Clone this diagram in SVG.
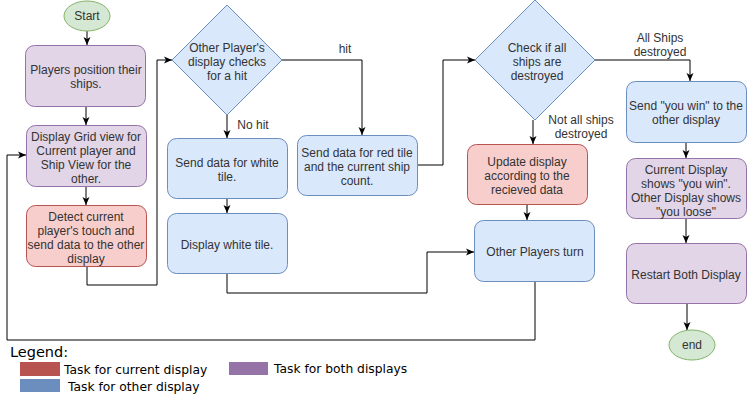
<svg xmlns="http://www.w3.org/2000/svg" width="747" height="400" viewBox="0 0 747 400">
<style>
.t{font-family:"Liberation Sans",Arial,sans-serif;font-size:12px;fill:#333;text-anchor:middle}
.lg{font-family:"DejaVu Sans",Verdana,sans-serif;font-size:12.3px;fill:#000}
.pu{fill:#e1d5e7;stroke:#9673a6;stroke-width:1}
.re{fill:#f8cecc;stroke:#b85450;stroke-width:1}
.bl{fill:#dae8fc;stroke:#6c8ebf;stroke-width:1}
.gr{fill:#d5e8d4;stroke:#82b366;stroke-width:1}
.c{fill:none;stroke:#000;stroke-width:1;marker-end:url(#ah)}
</style>
<defs>
<marker id="ah" markerUnits="userSpaceOnUse" markerWidth="8" markerHeight="8" viewBox="0 0 8 8" refX="8" refY="4" orient="auto">
<path d="M0,0.5 L8,4 L0,7.5 L2,4 Z" fill="#000"/>
</marker>
</defs>
<rect width="747" height="400" fill="#fff"/>
<g id="connectors">
<path class="c" d="M87,31 V45"/>
<path class="c" d="M86,106 V125"/>
<path class="c" d="M86,186 V205"/>
<path class="c" d="M87,266 V285 H157 V60 H172"/>
<path class="c" d="M227,115 V138"/>
<path class="c" d="M282,60 H362 V135"/>
<path class="c" d="M227,198 V213"/>
<path class="c" d="M227,273 V293 H427 V252 H474"/>
<path class="c" d="M417,165 H443 V60 H475"/>
<path class="c" d="M533,120 V144"/>
<path class="c" d="M595,60 H690 V81"/>
<path class="c" d="M527,204 V220"/>
<path class="c" d="M535,281 V340 H7 V155 H26"/>
<path class="c" d="M686,142 V158"/>
<path class="c" d="M686,218 V243"/>
<path class="c" d="M687,303 V330"/>
<text class="t" x="345" y="53">hit</text>
<text class="t" x="253" y="129">No hit</text>
<text class="t" x="660" y="42">All Ships</text>
<text class="t" x="660" y="56">destroyed</text>
<text class="t" x="581" y="124">Not all ships</text>
<text class="t" x="581" y="138">destroyed</text>
</g>
<g id="start">
<ellipse class="gr" cx="87" cy="16" rx="23" ry="15"/>
<text class="t" x="87" y="20">Start</text>
</g>
<g id="position">
<rect class="pu" x="25.5" y="45.5" width="120" height="61" rx="9"/>
<text class="t" x="86" y="74">Players position their</text>
<text class="t" x="86" y="88">ships.</text>
</g>
<g id="gridview">
<rect class="pu" x="26.5" y="125.5" width="120" height="61" rx="9"/>
<text class="t" x="86" y="141">Display Grid view for</text>
<text class="t" x="86" y="155">Current player and</text>
<text class="t" x="86" y="169">Ship View for the</text>
<text class="t" x="86" y="183">other.</text>
</g>
<g id="detect">
<rect class="re" x="26.5" y="205.5" width="120" height="61" rx="9"/>
<text class="t" x="86" y="221">Detect current</text>
<text class="t" x="86" y="235">player's touch and</text>
<text class="t" x="86" y="249">send data to the other</text>
<text class="t" x="86" y="263">display</text>
</g>
<g id="checkhit">
<polygon class="bl" points="227,5 282,60 227,115 172,60"/>
<text class="t" x="227" y="52">Other Player's</text>
<text class="t" x="227" y="66">display checks</text>
<text class="t" x="227" y="80">for a hit</text>
</g>
<g id="sendwhite">
<rect class="bl" x="167.5" y="138.5" width="120" height="60" rx="9"/>
<text class="t" x="227" y="167">Send data for white</text>
<text class="t" x="227" y="181">tile.</text>
</g>
<g id="displaywhite">
<rect class="bl" x="167.5" y="213.5" width="120" height="60" rx="9"/>
<text class="t" x="227" y="249">Display white tile.</text>
</g>
<g id="sendred">
<rect class="bl" x="297.5" y="135.5" width="120" height="60" rx="9"/>
<text class="t" x="357" y="157">Send data for red tile</text>
<text class="t" x="357" y="171">and the current ship</text>
<text class="t" x="357" y="185">count.</text>
</g>
<g id="checkships">
<polygon class="bl" points="535,0 595,60 535,120 475,60"/>
<text class="t" x="537" y="52">Check if all</text>
<text class="t" x="537" y="66">ships are</text>
<text class="t" x="537" y="80">destroyed</text>
</g>
<g id="update">
<rect class="re" x="467.5" y="144.5" width="120" height="60" rx="9"/>
<text class="t" x="527" y="166">Update display</text>
<text class="t" x="527" y="180">according to the</text>
<text class="t" x="527" y="194">recieved data</text>
</g>
<g id="otherturn">
<rect class="bl" x="474.5" y="220.5" width="120" height="61" rx="9"/>
<text class="t" x="535" y="256">Other Players turn</text>
</g>
<g id="sendwin">
<rect class="bl" x="626.5" y="81.5" width="120" height="61" rx="9"/>
<text class="t" x="686" y="110">Send "you win" to the</text>
<text class="t" x="686" y="124">other display</text>
</g>
<g id="showwin">
<rect class="pu" x="626.5" y="158.5" width="120" height="60" rx="9"/>
<text class="t" x="686" y="174">Current Display</text>
<text class="t" x="686" y="188">shows "you win".</text>
<text class="t" x="686" y="202">Other Display shows</text>
<text class="t" x="686" y="216">"you loose"</text>
</g>
<g id="restart">
<rect class="pu" x="626.5" y="243.5" width="120" height="60" rx="9"/>
<text class="t" x="686" y="279">Restart Both Display</text>
</g>
<g id="end">
<ellipse class="gr" cx="692" cy="345" rx="23" ry="15"/>
<text class="t" x="692" y="349">end</text>
</g>
<g id="legend">
<text class="lg" x="10" y="357" style="font-size:14.5px">Legend:</text>
<rect x="20" y="362" width="40" height="14" fill="#b85450"/>
<text class="lg" x="64" y="374">Task for current display</text>
<rect x="20" y="379" width="40" height="13" fill="#6c8ebf"/>
<text class="lg" x="68" y="391">Task for other display</text>
<rect x="229" y="362" width="39" height="13" fill="#9673a6"/>
<text class="lg" x="274" y="373">Task for both displays</text>
</g>
</svg>
